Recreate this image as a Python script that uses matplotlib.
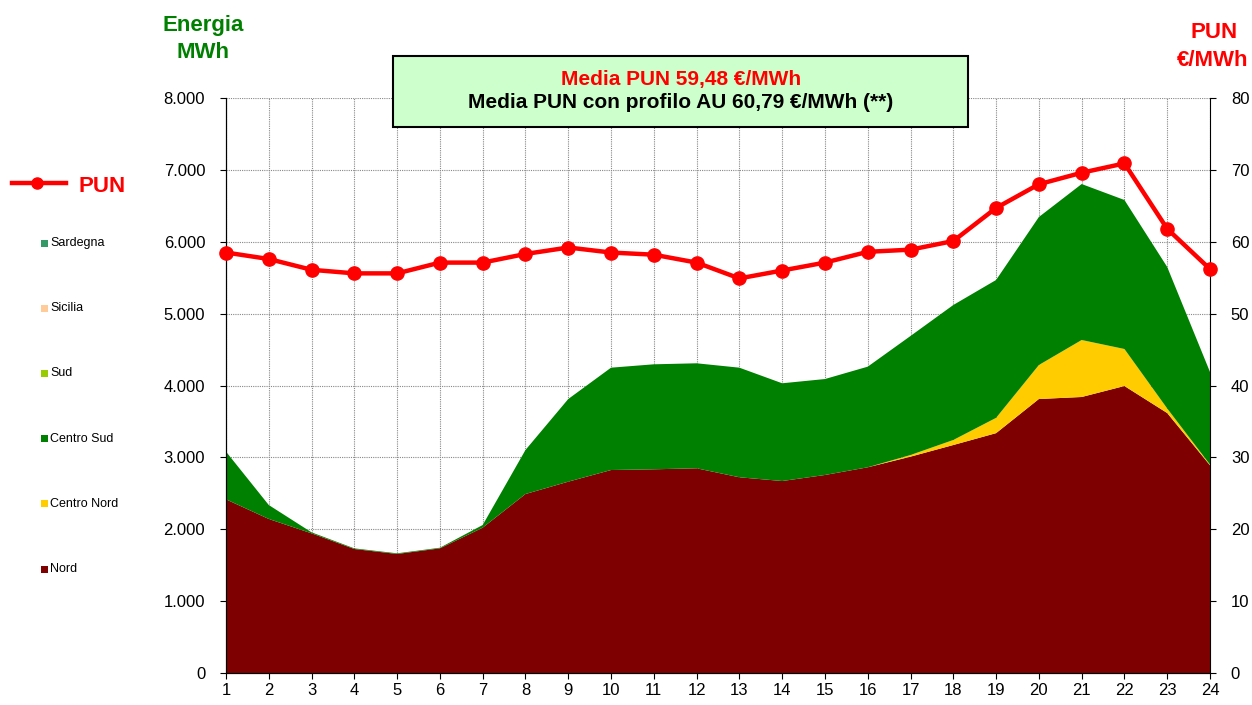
import matplotlib
matplotlib.use("Agg")
import matplotlib.pyplot as plt
from matplotlib.ticker import FuncFormatter, MultipleLocator
from matplotlib.patches import Rectangle
from matplotlib.lines import Line2D

plt.rcParams['font.family'] = ['Liberation Sans', 'DejaVu Sans']

hours = list(range(1, 25))
nord = [2416, 2143, 1943, 1725, 1656, 1734, 2022, 2490, 2662, 2824, 2834, 2848,
        2723, 2671, 2755, 2862, 3010, 3172, 3337, 3812, 3840, 3993, 3617, 2890]
centro_nord = [0, 0, 0, 0, 0, 0, 0, 0, 0, 0, 0, 0,
               0, 0, 0, 0, 23, 70, 213, 473, 793, 515, 63, 10]
centro_sud_top = [3080, 2337, 1957, 1734, 1665, 1743, 2059, 3103, 3812, 4248, 4295, 4309,
                  4248, 4031, 4090, 4262, 4689, 5120, 5468, 6344, 6803, 6581, 5649, 4188]
centro_sud = [t - n - c for t, n, c in zip(centro_sud_top, nord, centro_nord)]
sud = [0] * 24
sicilia = [0] * 24
sardegna = [0] * 24
pun = [58.5, 57.6, 56.1, 55.6, 55.6, 57.1, 57.1, 58.3, 59.2, 58.5, 58.2, 57.1,
       54.9, 56.0, 57.1, 58.6, 58.9, 60.1, 64.7, 68.0, 69.6, 70.9, 61.8, 56.2]

zone_names = ["Nord", "Centro Nord", "Centro Sud", "Sud", "Sicilia", "Sardegna"]
zone_colors = ["#7F0000", "#FFCC00", "#008000", "#99CC00", "#FFCC99", "#339966"]

W, H = 1252, 705
fig = plt.figure(figsize=(W / 100, H / 100), dpi=100)
ax = fig.add_axes([226 / W, 32 / H, (1210 - 226) / W, (673 - 98) / H])

ax.stackplot(hours, nord, centro_nord, centro_sud, sud, sicilia, sardegna,
             colors=zone_colors, linewidth=0, zorder=2)
ax.set_xlim(1, 24)
ax.set_ylim(0, 8000)
ax.set_xticks(hours)
ax.yaxis.set_major_locator(MultipleLocator(1000))
ax.yaxis.set_major_formatter(FuncFormatter(lambda v, p: f"{int(v):,}".replace(",", ".")))
ax.grid(True, color="#888888", linestyle=(0, (1, 1)), linewidth=0.8, zorder=0)
ax.set_axisbelow(True)
ax.tick_params(axis='both', labelsize=12, direction='out', length=4, color='black')
ax.tick_params(axis='y', pad=11)
ax.tick_params(axis='x', pad=3)
ax.spines['top'].set_visible(False)
ax.spines['right'].set_visible(False)
ax.spines['left'].set_color('black')
ax.spines['bottom'].set_color('black')

ax2 = ax.twinx()
ax2.plot(hours, pun, color="#FF0000", linewidth=3.2, marker='o', markersize=9.5,
         solid_joinstyle='round', zorder=5, clip_on=False)
ax2.set_ylim(0, 80)
ax2.yaxis.set_major_locator(MultipleLocator(10))
ax2.tick_params(axis='y', labelsize=12, direction='out', length=4, pad=11)
ax2.spines['top'].set_visible(False)
ax2.spines['right'].set_color('black')

# axis titles
fig.text(203 / W, 1 - 25 / H, "Energia", color="#008000", fontsize=16, fontweight='bold',
         ha='center', va='center')
fig.text(203 / W, 1 - 52 / H, "MWh", color="#008000", fontsize=16, fontweight='bold',
         ha='center', va='center')
fig.text(1214 / W, 1 - 33 / H, "PUN", color="#FF0000", fontsize=16, fontweight='bold',
         ha='center', va='center')
fig.text(1213 / W, 1 - 60 / H, "€/MWh", color="#FF0000", fontsize=16, fontweight='bold',
         ha='center', va='center')

# title box
box = Rectangle((393 / W, 1 - 127 / H), (968 - 393) / W, (127 - 56) / H,
                transform=fig.transFigure, facecolor="#CCFFCC", edgecolor="#000000",
                linewidth=1.5, zorder=10)
fig.patches.append(box)
fig.text(681 / W, 1 - 79 / H, "Media PUN 59,48 €/MWh", color="#FF0000", fontsize=15,
         fontweight='bold', ha='center', va='center', zorder=11)
fig.text(681 / W, 1 - 103 / H, "Media PUN con profilo AU 60,79 €/MWh (**)", color="#000000",
         fontsize=15, fontweight='bold', ha='center', va='center', zorder=11)

# legend
fig.lines.append(Line2D([12 / W, 66 / W], [1 - 183 / H, 1 - 183 / H], transform=fig.transFigure,
                        color="#FF0000", linewidth=3.2))
fig.lines.append(Line2D([37 / W], [1 - 183 / H], transform=fig.transFigure,
                        color="#FF0000", marker='o', markersize=8, linestyle='none'))
fig.text(78 / W, 1 - 187 / H, "PUN", color="#FF0000", fontsize=16, fontweight='bold',
         ha='left', va='center')
legend_order = ["Sardegna", "Sicilia", "Sud", "Centro Sud", "Centro Nord", "Nord"]
y0 = 243
for i, name in enumerate(legend_order):
    c = zone_colors[zone_names.index(name)]
    yy = y0 + i * 65.2
    fig.patches.append(Rectangle((41 / W, 1 - (yy + 3.5) / H), 7 / W, 7 / H,
                                 transform=fig.transFigure, facecolor=c, edgecolor='none'))
    fig.text(50 / W, 1 - yy / H, name, fontsize=9, color="#000000", ha='left', va='center')

fig.savefig("out.png", dpi=100)
